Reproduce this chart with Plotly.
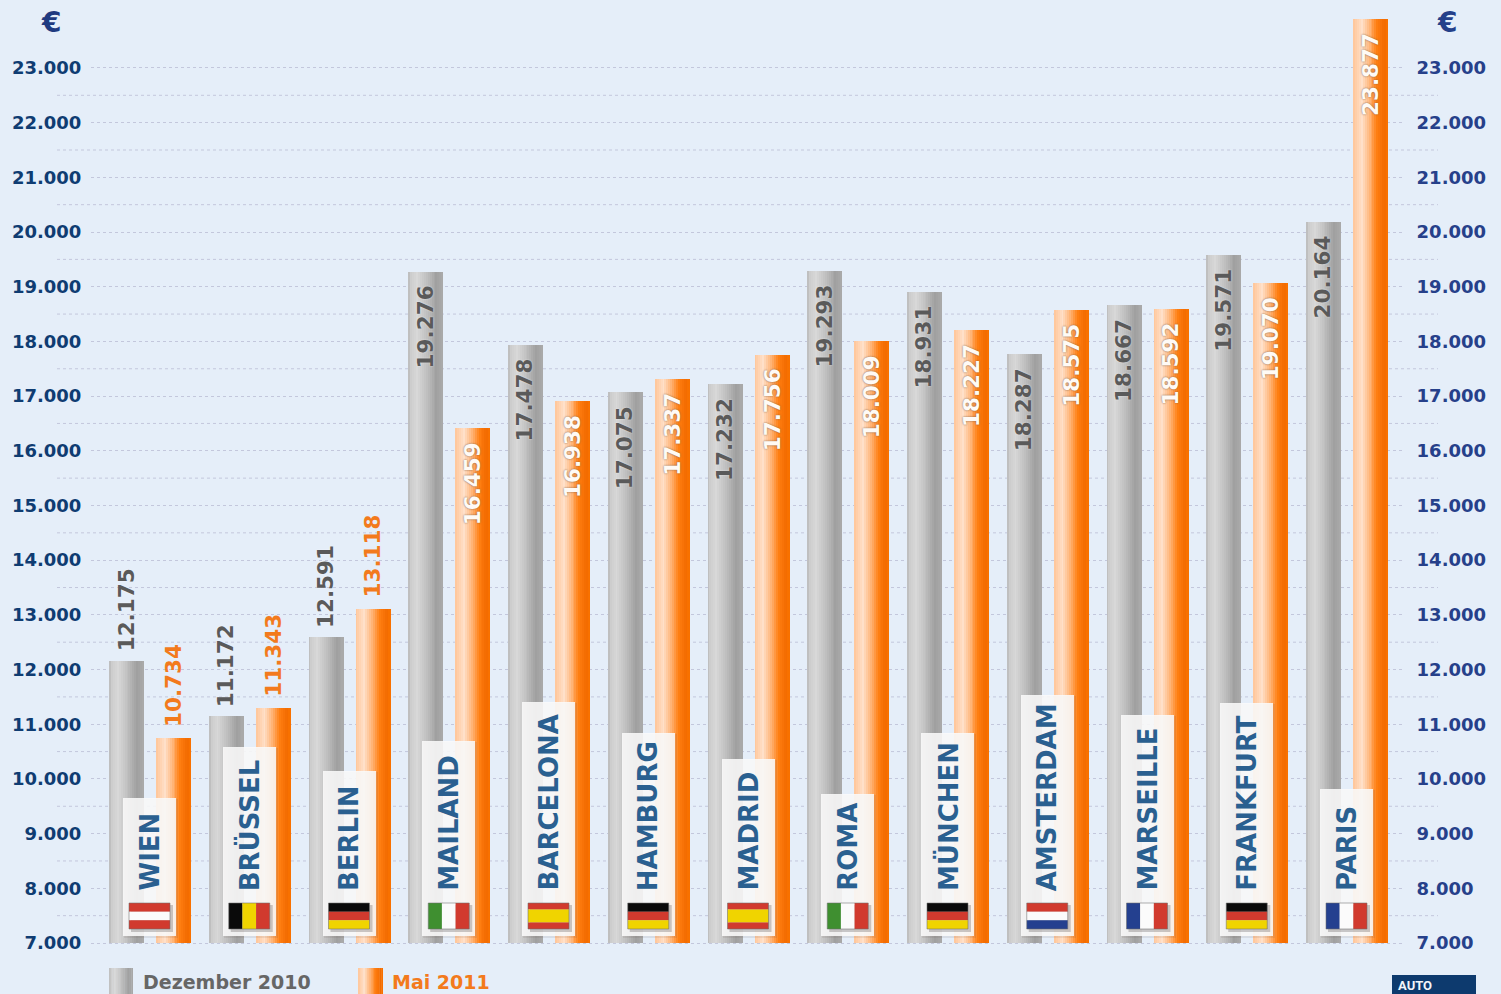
import plotly.graph_objects as go

W, H = 1501, 994
# ---------- data ----------
cities = ["WIEN", "BRÜSSEL", "BERLIN", "MAILAND", "BARCELONA", "HAMBURG", "MADRID",
          "ROMA", "MÜNCHEN", "AMSTERDAM", "MARSEILLE", "FRANKFURT", "PARIS"]
dez_2010 = [12175, 11172, 12591, 19276, 17478, 17075, 17232, 19293, 18931, 18287, 18667, 19571, 20164]
mai_2011 = [10734, 11343, 13118, 16459, 16938, 17337, 17756, 18009, 18227, 18575, 18592, 19070, 23877]
# bar heights as drawn in the picture (they differ slightly from the printed labels)
dez_bar_heights = [12160, 11150, 12595, 19276, 17934, 17075, 17221, 19293, 18903, 17770, 18667, 19580, 20183]
mai_bar_heights = [10748, 11297, 13107, 16417, 16910, 17313, 17756, 18007, 18208, 18575, 18592, 19068, 23895]
panel_tops = [9651, 10584, 10145, 10694, 11407, 10840, 10364, 9724, 10840, 11535, 11169, 11388, 9816]
countries = ["AT", "BE", "DE", "IT", "ES", "DE", "ES", "IT", "DE", "NL", "FR", "DE", "FR"]
y_ticks = list(range(7000, 24000, 1000))
y_minor = list(range(7500, 23000, 1000))
y_tick_labels = [f"{v // 1000}.000" for v in y_ticks]
legend_labels = ["Dezember 2010", "Mai 2011"]

# ---------- geometry / style ----------
L, R = 91, 1405
PX_PER_UNIT = 54.69 / 1000
BASE = 7000
Y0 = 7000 - 51 / PX_PER_UNIT
Y1 = 7000 + 943 / PX_PER_UNIT
X_STEP = 99.75
X_RANGE = [(L - 150) / X_STEP, (R - 150) / X_STEP]
BG = "#e5eef9"
GRID = "#c3c7dc"
LABEL_FONT = "DejaVu Sans"

GREY_STOPS = [(0, "#b8b8b8"), (.08, "#cdcdcd"), (.25, "#d8d8d8"), (.55, "#bdbdbd"), (.8, "#a0a0a0"), (1, "#aaaaaa")]
ORANGE_STOPS = [(0, "#ffc598"), (.25, "#ffe0c9"), (.5, "#ffae6c"), (.68, "#ff7f12"), (.9, "#f26a00"), (1, "#fb7400")]


def hex2rgb(c):
    return [int(c[i:i + 2], 16) for i in (1, 3, 5)]


def grad(stops, t):
    for (a, ca), (b, cb) in zip(stops, stops[1:]):
        if t <= b:
            f = (t - a) / (b - a)
            return "rgb(%d,%d,%d)" % tuple(round(p + (q - p) * f) for p, q in zip(hex2rgb(ca), hex2rgb(cb)))
    return stops[-1][1]


def px(x):
    return (x - L) / (R - L)


def py(y):
    return (H - y) / H


fig = go.Figure()
SLICES = 18
n = len(cities)
xs = list(range(n))
BAR_W = 35 / X_STEP


def add_gradient_bars(values, start, stops):
    sw = BAR_W / SLICES
    for k in range(SLICES):
        fig.add_trace(go.Bar(
            x=xs, y=[v - BASE for v in values], base=BASE,
            offset=start + k * sw, width=sw * (1.25 if k < SLICES - 1 else 1),
            marker=dict(color=grad(stops, (k + .5) / SLICES), line_width=0),
            hoverinfo="skip", showlegend=False))


add_gradient_bars(dez_bar_heights, -41 / X_STEP, GREY_STOPS)
add_gradient_bars(mai_bar_heights, 6 / X_STEP, ORANGE_STOPS)

PANEL_BASE = 7000 + 7 / PX_PER_UNIT
# soft panel shadow and translucent panel
fig.add_trace(go.Bar(x=xs, y=[t - PANEL_BASE + 1 / PX_PER_UNIT for t in panel_tops],
                     base=PANEL_BASE - 2 / PX_PER_UNIT, offset=-26 / X_STEP, width=54 / X_STEP,
                     marker=dict(color="rgba(90,70,60,0.10)", line_width=0), hoverinfo="skip", showlegend=False))
fig.add_trace(go.Bar(x=xs, y=[t - PANEL_BASE for t in panel_tops], base=PANEL_BASE,
                     offset=-27 / X_STEP, width=53 / X_STEP,
                     marker=dict(color="rgba(250,250,250,0.88)", line_width=0), hoverinfo="skip", showlegend=False))
# transparent trace that makes the right-hand axis appear
fig.add_trace(go.Scatter(x=[0], y=[7000], yaxis="y2", mode="markers", marker=dict(opacity=0),
                         hoverinfo="skip", showlegend=False))

shapes, ann = [], []
# half-step guide lines extend past the plot on both sides
for v in y_minor:
    shapes.append(dict(type="line", xref="paper", yref="y", x0=px(57), x1=px(1438), y0=v, y1=v,
                       layer="below", line=dict(color=GRID, width=1, dash="dot")))

RED, WHITE, BLACK, YEL, GREEN, BLUE = "#d13a2e", "#fbfbfb", "#0a0a0a", "#f0d400", "#3f8f30", "#24408f"
FLAGS = {
    "AT": ("h", [(RED, 1), (WHITE, 1), (RED, 1)]),
    "BE": ("v", [(BLACK, 1), (YEL, 1), (RED, 1)]),
    "DE": ("h", [(BLACK, 1), (RED, 1), (YEL, 1)]),
    "IT": ("v", [(GREEN, 1), (WHITE, 1), (RED, 1)]),
    "ES": ("h", [(RED, 1), (YEL, 2), (RED, 1)]),
    "NL": ("h", [(RED, 1), (WHITE, 1), (BLUE, 1)]),
    "FR": ("v", [(BLUE, 1), (WHITE, 1), (RED, 1)]),
}
FX0, FX1, FY0, FY1 = -21, 20, 903, 929
for i, c in enumerate(countries):
    cx = 150 + X_STEP * i
    shapes.append(dict(type="rect", xref="paper", yref="paper", x0=px(cx + FX0 + 2), x1=px(cx + FX1 + 3),
                       y0=py(FY1 + 3), y1=py(FY0 + 2), fillcolor="rgba(60,50,50,0.25)", line_width=0))
    orient, bands = FLAGS[c]
    total = sum(b[1] for b in bands)
    pos = 0
    for col, share in bands:
        a, b = pos / total, (pos + share) / total
        pos += share
        if orient == "h":
            x0, x1, y0, y1 = cx + FX0, cx + FX1, FY0 + a * (FY1 - FY0), FY0 + b * (FY1 - FY0)
        else:
            x0, x1, y0, y1 = cx + FX0 + a * (FX1 - FX0), cx + FX0 + b * (FX1 - FX0), FY0, FY1
        shapes.append(dict(type="rect", xref="paper", yref="paper", x0=px(x0), x1=px(x1),
                           y0=py(y1), y1=py(y0), fillcolor=col, line_width=0))
    shapes.append(dict(type="rect", xref="paper", yref="paper", x0=px(cx + FX0), x1=px(cx + FX1),
                       y0=py(FY1), y1=py(FY0), fillcolor="rgba(0,0,0,0)",
                       line=dict(color="rgba(110,110,110,0.55)", width=1)))
    ann.append(dict(text=cities[i], x=i - 0.5 / X_STEP, xref="x", y=py(892), yref="paper", xanchor="center", yanchor="bottom",
                    textangle=-90, showarrow=False, borderpad=0,
                    font=dict(family=LABEL_FONT, size=26, weight=700, color="#2a6090")))


def value_label(i, text_value, bar_value, x_off, color, inside, shadow="none", up=10):
    ann.append(dict(text=f"{text_value // 1000}.{text_value % 1000:03d}", x=i + x_off / X_STEP, xref="x", y=bar_value, yref="y",
                    xanchor="center", yanchor="top" if inside else "bottom", yshift=-13 if inside else up,
                    textangle=-90, showarrow=False, borderpad=0,
                    font=dict(family=LABEL_FONT, size=21.5, weight=700, color=color, shadow=shadow)))


GREY_HALO = "0 0 2px rgba(255,255,255,0.6)"
for i in range(n):
    inside = dez_2010[i] > 14000
    value_label(i, dez_2010[i], dez_bar_heights[i], -24, "#5a5a5a", inside, GREY_HALO, up=8)
    inside = mai_2011[i] > 14000
    if inside:
        value_label(i, mai_2011[i], mai_bar_heights[i], 23.5, "#fffaf5", True, "0 0 2px #7a5a40")
    else:
        value_label(i, mai_2011[i], mai_bar_heights[i], 23.5, "#f37a1c", False)

# legend swatches with the same gradients
LEG_SLICES = 14
for x0, w, stops in [(109, 24, GREY_STOPS), (358, 25, ORANGE_STOPS)]:
    for k in range(LEG_SLICES):
        shapes.append(dict(type="rect", xref="paper", yref="paper",
                           x0=px(x0 + w * k / LEG_SLICES), x1=px(x0 + w * (k + 1.2) / LEG_SLICES if k < LEG_SLICES - 1 else x0 + w),
                           y0=py(H), y1=py(968), fillcolor=grad(stops, (k + .5) / LEG_SLICES), line_width=0))
ann.append(dict(text=legend_labels[0], x=px(142), xref="paper", y=py(982), yref="paper", xanchor="left", yanchor="middle",
                showarrow=False, borderpad=0, font=dict(family=LABEL_FONT, size=19, weight=700, color="#666666")))
ann.append(dict(text=legend_labels[1], x=px(391), xref="paper", y=py(982), yref="paper", xanchor="left", yanchor="middle",
                showarrow=False, borderpad=0, font=dict(family=LABEL_FONT, size=19, weight=700, color="#f37a1c")))

# euro signs and logo
for x_pos, col in [(51, "#1f3a80"), (1447, "#24408a")]:
    ann.append(dict(text="€", x=px(x_pos), xref="paper", y=py(22), yref="paper", xanchor="center", yanchor="middle",
                    showarrow=False, borderpad=0, font=dict(family=LABEL_FONT, size=28, weight=700, color=col)))
shapes.append(dict(type="rect", xref="paper", yref="paper", x0=px(1392), x1=px(1476), y0=py(H), y1=py(975),
                   fillcolor="#0d3a6e", line_width=0))
ann.append(dict(text="AUTO", x=px(1397), xref="paper", y=py(985), yref="paper", xanchor="left", yanchor="middle",
                showarrow=False, borderpad=0, font=dict(family="Liberation Sans Narrow, Roboto", size=13, weight=700, color="#f2f5fa")))

axis_common = dict(range=[Y0, Y1], tickmode="array", tickvals=y_ticks, ticktext=y_tick_labels,
                   ticks="outside", tickcolor="rgba(0,0,0,0)", showline=False, zeroline=False)
fig.update_layout(
    width=W, height=H, autosize=False,
    margin=dict(l=L, r=W - R, t=0, b=0, pad=0),
    paper_bgcolor=BG, plot_bgcolor="rgba(0,0,0,0)", barmode="overlay", bargap=0, showlegend=False,
    xaxis=dict(range=X_RANGE, visible=False, fixedrange=True),
    yaxis=dict(**axis_common, ticklen=5, side="left", showgrid=True, gridcolor=GRID, griddash="dot", gridwidth=1,
               tickfont=dict(family=LABEL_FONT, size=18, weight=700, color="#0f3c72"), fixedrange=True, layer="below traces"),
    yaxis2=dict(**axis_common, ticklen=7, side="right", overlaying="y", showgrid=False,
                tickfont=dict(family=LABEL_FONT, size=18, weight=700, color="#26408a"), fixedrange=True),
    shapes=shapes, annotations=ann,
)
fig.write_html("out.html", config={"displayModeBar": False},
               post_script="document.body.style.margin='0';document.body.style.overflow='hidden';document.body.style.background='%s';" % BG)
